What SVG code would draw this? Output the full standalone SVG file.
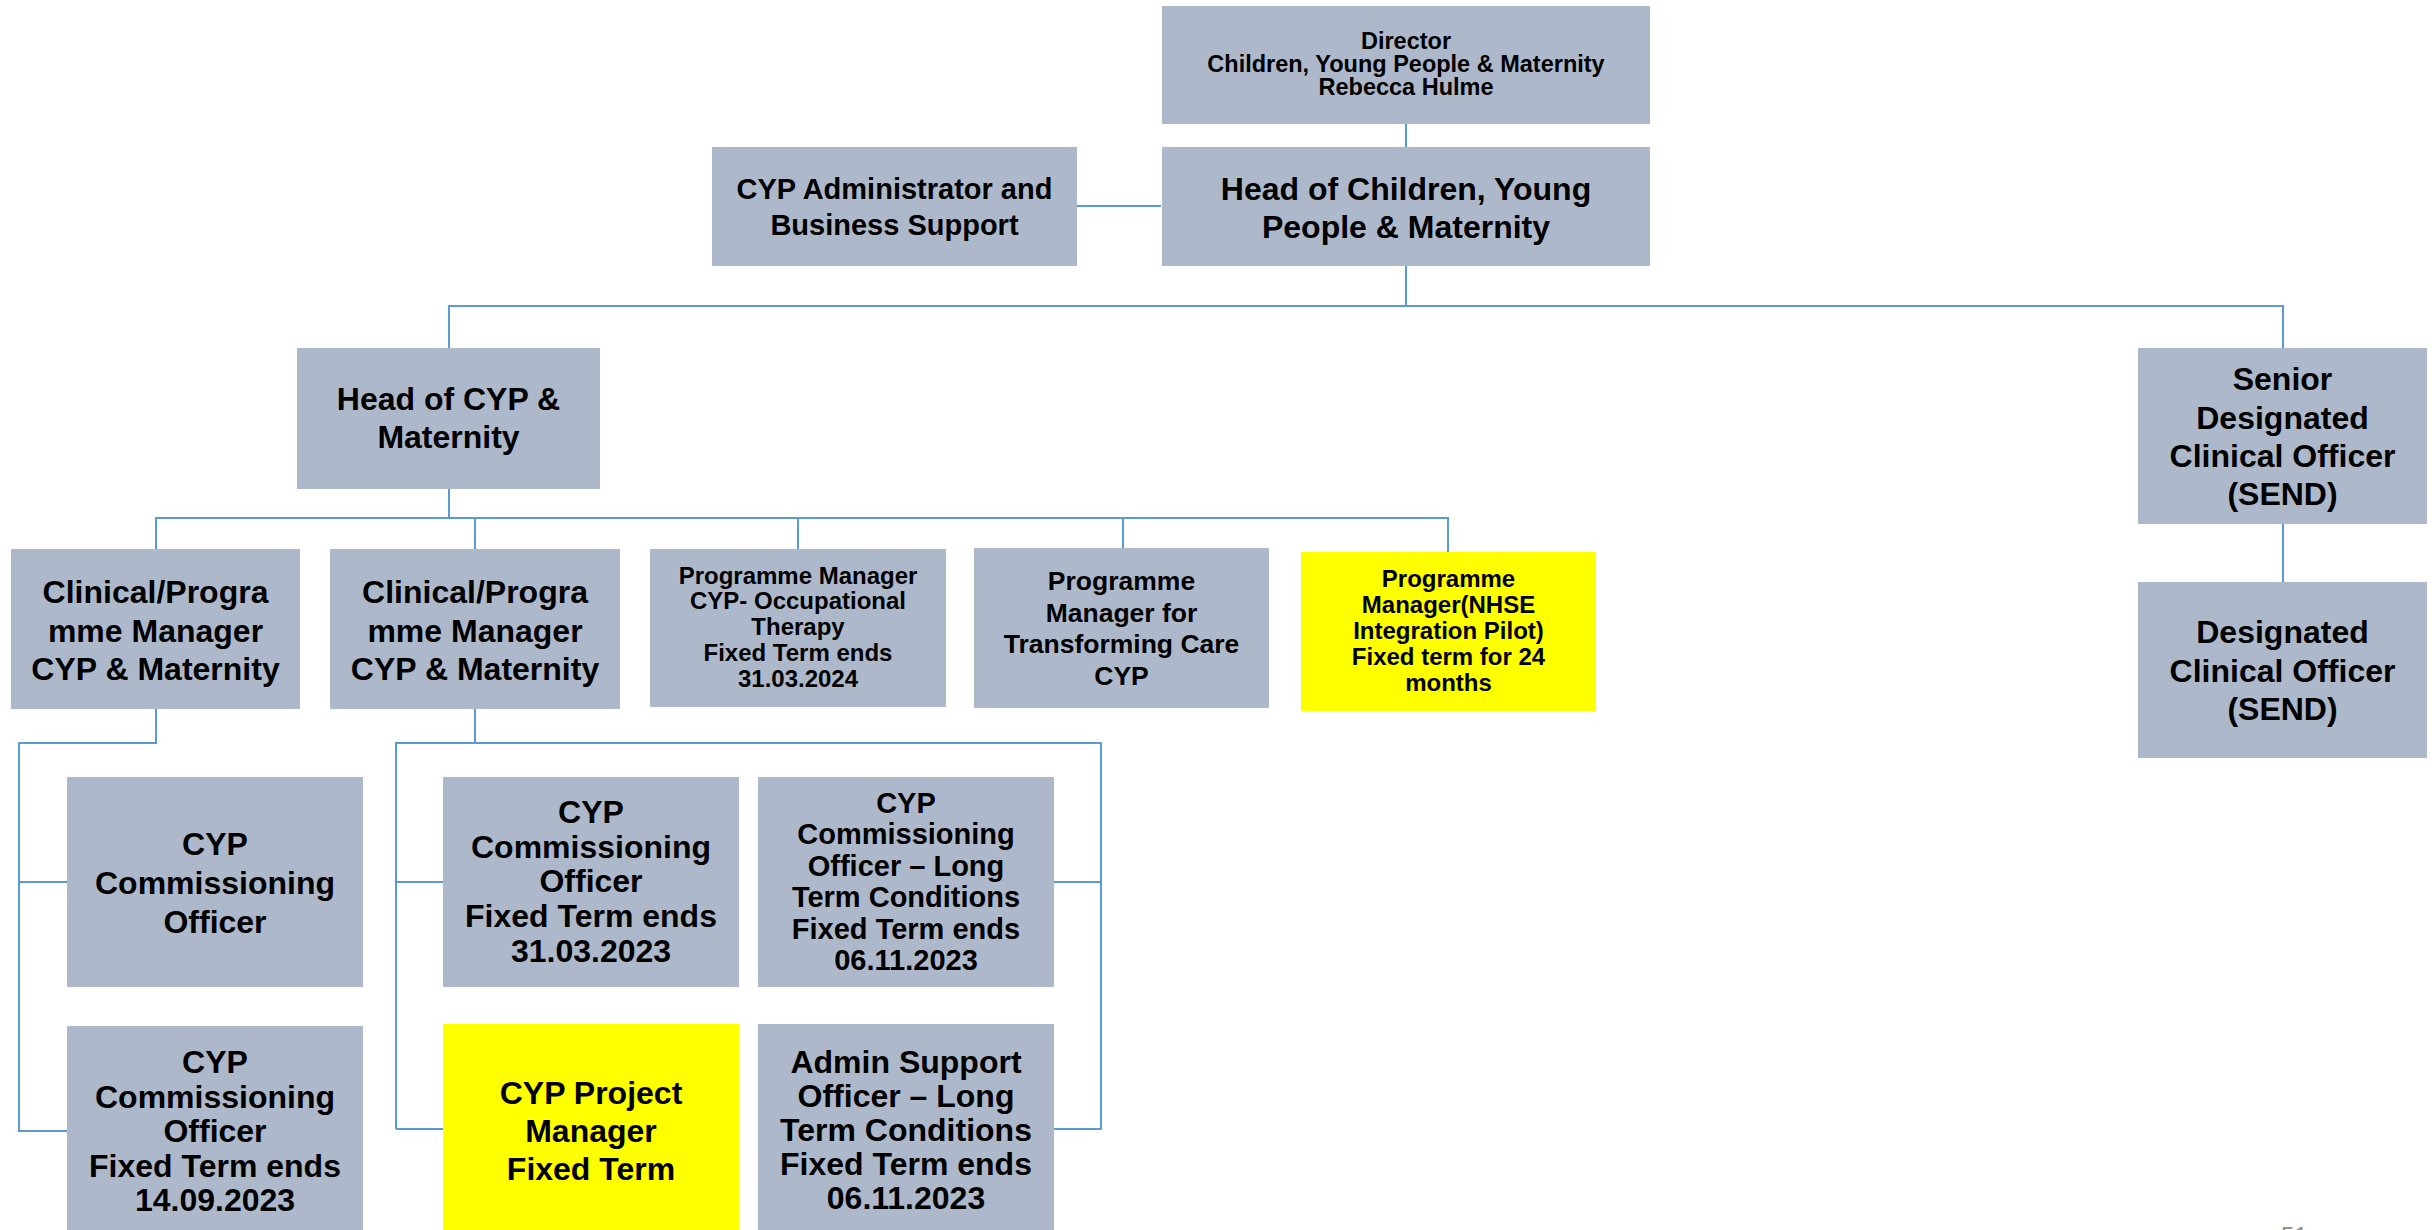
<svg xmlns="http://www.w3.org/2000/svg" width="2435" height="1230" viewBox="0 0 2435 1230">
<style>
.box{fill:#ADB9CA}
.hl{fill:#FFFF00}
.c{fill:none;stroke:#5B9BD5;stroke-width:2}
text{font-family:"Liberation Sans",Arial,sans-serif;font-weight:bold;text-anchor:middle;fill:#000}
.f21{font-size:23.5px}
.f24{font-size:24px}
.f26{font-size:26.5px}
.f29{font-size:29px}
.f32{font-size:32px}
.pg{font-size:24px;font-weight:normal;fill:#8C8C8C;text-anchor:start}
</style>
<rect width="2435" height="1230" fill="#FFFFFF"/>
<g id="connectors">
<path class="c" d="M1406 124V147"/>
<path class="c" d="M1077 206H1161"/>
<path class="c" d="M1406 266V306M449 348V306H2283V348"/>
<path class="c" d="M2283 524V582"/>
<path class="c" d="M449 489V518M156 549V518H1448V552M475 518V549M798 518V549M1123 518V548"/>
<path class="c" d="M156 709V743H19V1131H67M19 882H67"/>
<path class="c" d="M475 709V743M396 1129V743H1101V1129H1054M396 882H443M396 1129H443M1054 882H1101"/>
</g>
<g id="director">
<rect class="box" x="1162" y="6" width="488" height="118"/>
<text class="f21" x="1406" y="48.5">Director</text>
<text class="f21" x="1406" y="71.5">Children, Young People &amp; Maternity</text>
<text class="f21" x="1406" y="94.5">Rebecca Hulme</text>
</g>
<g id="head-cypm">
<rect class="box" x="1162" y="147" width="488" height="119"/>
<text class="f32" x="1406" y="200">Head of Children, Young</text>
<text class="f32" x="1406" y="238">People &amp; Maternity</text>
</g>
<g id="admin">
<rect class="box" x="712" y="147" width="365" height="119"/>
<text class="f29" x="894.5" y="199">CYP Administrator and</text>
<text class="f29" x="894.5" y="235">Business Support</text>
</g>
<g id="head-cyp">
<rect class="box" x="297" y="348" width="303" height="141"/>
<text class="f32" x="448.5" y="410">Head of CYP &amp;</text>
<text class="f32" x="448.5" y="448">Maternity</text>
</g>
<g id="senior-dco">
<rect class="box" x="2138" y="348" width="289" height="176"/>
<text class="f32" x="2282.5" y="390">Senior</text>
<text class="f32" x="2282.5" y="428.5">Designated</text>
<text class="f32" x="2282.5" y="467">Clinical Officer</text>
<text class="f32" x="2282.5" y="505">(SEND)</text>
</g>
<g id="dco">
<rect class="box" x="2138" y="582" width="289" height="176"/>
<text class="f32" x="2282.5" y="643">Designated</text>
<text class="f32" x="2282.5" y="681.5">Clinical Officer</text>
<text class="f32" x="2282.5" y="720">(SEND)</text>
</g>
<g id="clinical-1">
<rect class="box" x="11" y="549" width="289" height="160"/>
<text class="f32" x="155.5" y="603">Clinical/Progra</text>
<text class="f32" x="155.5" y="642">mme Manager</text>
<text class="f32" x="155.5" y="680">CYP &amp; Maternity</text>
</g>
<g id="clinical-2">
<rect class="box" x="330" y="549" width="290" height="160"/>
<text class="f32" x="475" y="603">Clinical/Progra</text>
<text class="f32" x="475" y="642">mme Manager</text>
<text class="f32" x="475" y="680">CYP &amp; Maternity</text>
</g>
<g id="pm-ot">
<rect class="box" x="650" y="549" width="296" height="158"/>
<text class="f24" x="798" y="583.5">Programme Manager</text>
<text class="f24" x="798" y="609.3">CYP- Occupational</text>
<text class="f24" x="798" y="635">Therapy</text>
<text class="f24" x="798" y="661">Fixed Term ends</text>
<text class="f24" x="798" y="687">31.03.2024</text>
</g>
<g id="pm-tc">
<rect class="box" x="974" y="548" width="295" height="160"/>
<text class="f26" x="1121.5" y="590">Programme</text>
<text class="f26" x="1121.5" y="621.7">Manager for</text>
<text class="f26" x="1121.5" y="653.3">Transforming Care</text>
<text class="f26" x="1121.5" y="685">CYP</text>
</g>
<g id="pm-nhse">
<rect class="hl" x="1301" y="552" width="295" height="159"/>
<text class="f24" x="1448.5" y="587">Programme</text>
<text class="f24" x="1448.5" y="613">Manager(NHSE</text>
<text class="f24" x="1448.5" y="639">Integration Pilot)</text>
<text class="f24" x="1448.5" y="665">Fixed term for 24</text>
<text class="f24" x="1448.5" y="691">months</text>
</g>
<g id="cyp-co">
<rect class="box" x="67" y="777" width="296" height="210"/>
<text class="f32" x="215" y="855">CYP</text>
<text class="f32" x="215" y="894">Commissioning</text>
<text class="f32" x="215" y="933">Officer</text>
</g>
<g id="cyp-co-ft-2023-09">
<rect class="box" x="67" y="1026" width="296" height="210"/>
<text class="f32" x="215" y="1072.5">CYP</text>
<text class="f32" x="215" y="1107.5">Commissioning</text>
<text class="f32" x="215" y="1142">Officer</text>
<text class="f32" x="215" y="1176.5">Fixed Term ends</text>
<text class="f32" x="215" y="1210.5">14.09.2023</text>
</g>
<g id="cyp-co-ft-2023-03">
<rect class="box" x="443" y="777" width="296" height="210"/>
<text class="f32" x="591" y="822.5">CYP</text>
<text class="f32" x="591" y="857.5">Commissioning</text>
<text class="f32" x="591" y="892">Officer</text>
<text class="f32" x="591" y="927">Fixed Term ends</text>
<text class="f32" x="591" y="961.5">31.03.2023</text>
</g>
<g id="cyp-co-ltc">
<rect class="box" x="758" y="777" width="296" height="210"/>
<text class="f29" x="906" y="813">CYP</text>
<text class="f29" x="906" y="844.4">Commissioning</text>
<text class="f29" x="906" y="875.8">Officer – Long</text>
<text class="f29" x="906" y="907.2">Term Conditions</text>
<text class="f29" x="906" y="938.6">Fixed Term ends</text>
<text class="f29" x="906" y="970">06.11.2023</text>
</g>
<g id="cyp-pm">
<rect class="hl" x="443" y="1024" width="296" height="212"/>
<text class="f32" x="591" y="1104">CYP Project</text>
<text class="f32" x="591" y="1142">Manager</text>
<text class="f32" x="591" y="1180">Fixed Term</text>
</g>
<g id="admin-ltc">
<rect class="box" x="758" y="1024" width="296" height="212"/>
<text class="f32" x="906" y="1072.5">Admin Support</text>
<text class="f32" x="906" y="1106.5">Officer – Long</text>
<text class="f32" x="906" y="1140.5">Term Conditions</text>
<text class="f32" x="906" y="1175">Fixed Term ends</text>
<text class="f32" x="906" y="1209">06.11.2023</text>
</g>
<text class="pg" x="2281" y="1244">51</text>
</svg>
